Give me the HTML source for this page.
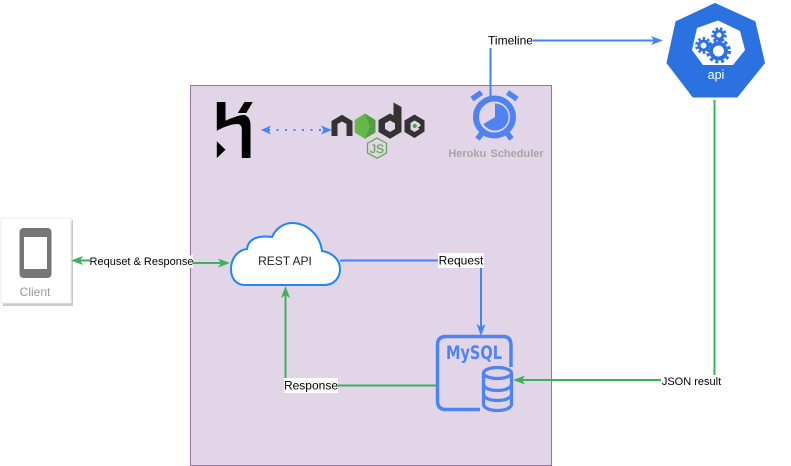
<!DOCTYPE html>
<html><head><meta charset="utf-8"><style>
html,body{margin:0;padding:0;background:#fff;width:791px;height:466px;overflow:hidden}
svg{display:block}
text{font-family:"Liberation Sans",sans-serif}
</style></head><body>
<svg width="791" height="466" viewBox="0 0 791 466" xmlns="http://www.w3.org/2000/svg">
<rect x="190.5" y="85.5" width="361" height="380" fill="#e1d5e7" stroke="#9673a6"/>
<!-- client -->
<rect x="3" y="220" width="70" height="86" fill="#c9c9c9"/>
<rect x="1" y="218" width="70" height="85" fill="#fff" stroke="#eee"/>
<rect x="19.5" y="228" width="32" height="50" rx="4" fill="#777"/>
<rect x="24" y="237" width="23" height="32" fill="#fff"/>
<text x="35" y="296" font-size="12" fill="#999" text-anchor="middle">Client</text>
<!-- heroku -->
<path d="M216.800 102H225.500V120.700C232 118 239 115 243.500 115 247.500 115 250.500 119 250.500 125V158H241.800V129C241.800 126 240 124 237.500 124 231.500 124 223.500 127 216.800 130.700Z" fill="#000"/>
<path d="M244.500 102H252.800L246.200 113H237.800Z" fill="#000"/>
<path d="M216.800 141.300L225.500 149.700 216.800 158Z" fill="#000"/>
<!-- dotted -->
<line x1="268" y1="130" x2="326" y2="130" stroke="#4285f4" stroke-width="2" stroke-dasharray="2 6.500"/>
<path d="M261 130L271 125.500 268.500 130 271 134.500Z" fill="#4285f4"/>
<path d="M332 130L321 125.500 323.500 130 321 134.500Z" fill="#4285f4"/>
<!-- node -->
<path d="M331.500 136V121L342 114.700 352.500 121V136H346.500V124L342 121.500 337.500 124V136Z" fill="#333"/>
<path d="M365 113.500L375.500 120V132.500L365 138.700 354.800 132.500V120Z" fill="#539e43"/>
<path d="M365 113.500L354.800 120V132.500L365 138.700 370 127Z" fill="#6cc24a" opacity=".7"/>
<path d="M393.500 102.500L401.500 107V132L390 138.700 378.500 132V120L390 113.500 393.500 115.500ZM390 120.500L385 123.300V129L390 132 395 129V123.300Z" fill="#333" fill-rule="evenodd"/>
<path d="M414.500 114.500L424.500 120.500V131.500L414.500 138 404.500 132V120.500ZM414.500 120.500L410.500 123V129.500L414.500 132 419.500 129 418 127.500 421 125.500 419 123Z" fill="#333" fill-rule="evenodd"/>
<circle cx="414.800" cy="126" r="2" fill="#539e43"/>
<path d="M377 138L386.500 143.200V153L377 158.200 367.500 153V143.200Z" fill="none" stroke="#6aa85d" stroke-width="1.300"/>
<text x="377" y="153" font-size="12" fill="#6aa85d" stroke="#6aa85d" stroke-width=".3" text-anchor="middle">JS</text>
<!-- clock -->
<line x1="490.500" y1="48" x2="490.500" y2="97" stroke="#4285f4" stroke-width="2"/>
<circle cx="494.500" cy="117" r="18.500" fill="none" stroke="#4f83f1" stroke-width="6"/>
<path d="M495 117V103.500A13.500 13.500 0 1 1 483.500 124Z" fill="#4f83f1"/>
<path d="M472 99L481.500 92.500M507.500 92.500L517 99M477.500 139L482 133M511.500 139L507 133" fill="none" stroke="#4f83f1" stroke-width="5.500"/>
<text x="496" y="157" font-size="11" font-weight="bold" fill="#a6a6a6" text-anchor="middle" word-spacing="1.200">Heroku Scheduler</text>
<!-- k8s -->
<path d="M715 3.500L755 21.700 764.500 63 737 97H693L667 63 676 21.700Z" fill="#2b72e0" stroke="#2b72e0" stroke-width="1" stroke-linejoin="round"/>
<path d="M718 20.500L740 31 745 50 733 65H703L692 50 697 28Z" fill="#fff"/>
<g fill="none" stroke="#2b72e0">
<circle cx="718.500" cy="51" r="7.500" stroke-width="4"/>
<circle cx="718.500" cy="51" r="11" stroke-width="3" stroke-dasharray="3 2.800"/>
<circle cx="703.500" cy="45.500" r="4.500" stroke-width="3"/>
<circle cx="703.500" cy="45.500" r="7.200" stroke-width="2.500" stroke-dasharray="2.500 2.200"/>
<circle cx="719" cy="35" r="4" stroke-width="3"/>
<circle cx="719" cy="35" r="6.500" stroke-width="2.500" stroke-dasharray="2.500 2"/>
</g>
<text x="716" y="79" font-size="12.500" fill="#fff" text-anchor="middle">api</text>
<!-- timeline -->
<line x1="533" y1="40.500" x2="654" y2="40.500" stroke="#4285f4" stroke-width="2"/>
<path d="M663 40.500L651 36 654 40.500 651 45Z" fill="#4285f4"/>
<rect x="488" y="33" width="45" height="15" fill="#fff"/>
<text x="510.500" y="44.500" font-size="12" fill="#000" text-anchor="middle">Timeline</text>
<!-- json -->
<path d="M714.500 100V380H522" fill="none" stroke="#3cb15c" stroke-width="2"/>
<path d="M513 380L525 375.500 522 380 525 384.500Z" fill="#3cb15c"/>
<rect x="661" y="375" width="61" height="13" fill="#fff"/>
<text x="691.500" y="385" font-size="11" text-anchor="middle">JSON result</text>
<!-- request -->
<path d="M340 260.500H481V327" fill="none" stroke="#4285f4" stroke-width="2"/>
<path d="M481 336L476.500 324 481 327 485.500 324Z" fill="#4285f4"/>
<rect x="438" y="253" width="46" height="15" fill="#fff"/>
<text x="461" y="264.500" font-size="12" text-anchor="middle">Request</text>
<!-- response -->
<path d="M436 385.500H285.500V295" fill="none" stroke="#3cb15c" stroke-width="2"/>
<path d="M285.500 286L281 298 285.500 295 290 298Z" fill="#3cb15c"/>
<rect x="284" y="378" width="54" height="15" fill="#fff"/>
<text x="311" y="389.500" font-size="12" text-anchor="middle">Response</text>
<!-- req/resp -->
<path d="M80 260.500H90M193 263H222" fill="none" stroke="#3cb15c" stroke-width="2"/>
<path d="M71 260.500L83 256 80 260.500 83 265Z" fill="#3cb15c"/>
<path d="M230 263L218 258.500 221 263 218 267.500Z" fill="#3cb15c"/>
<rect x="90" y="255" width="103" height="13" fill="#fff"/>
<text x="141.500" y="265" font-size="11" text-anchor="middle">Requset &amp; Response</text>
<!-- cloud -->
<path d="M245 285C235 285 231 277 231 269 231 258 238 250 247 249 248 239 258 235 272 237 276 228 284 223 292 223 307 223 320 235 322 251 333 253 340 260 340 269 340 278 334 285 324 285Z" fill="#fff" stroke="#1e88f0" stroke-width="2"/>
<text x="285" y="265" font-size="12" fill="#222" text-anchor="middle">REST API</text>
<!-- mysql -->
<path d="M480 409.500H446Q437.500 409.500 437.500 401V345Q437.500 336.500 446 336.500H503Q511 336.500 511 345V367" fill="none" stroke="#4f83f1" stroke-width="3.500"/>
<text x="474" y="359" font-size="19" font-weight="bold" fill="#4f83f1" text-anchor="middle" textLength="56" lengthAdjust="spacingAndGlyphs" style="font-family:'DejaVu Sans',sans-serif">MySQL</text>
<path d="M483.500 373V404C483.500 408 490 410.500 497.500 410.500S511.500 408 511.500 404V373" fill="#e1d5e7" stroke="#4f83f1" stroke-width="3.300"/>
<ellipse cx="497.500" cy="373" rx="14" ry="5.500" fill="#e1d5e7" stroke="#4f83f1" stroke-width="3.300"/>
<path d="M483.500 384C483.500 388 490 390.500 497.500 390.500S511.500 388 511.500 384M483.500 394C483.500 398 490 400.500 497.500 400.500S511.500 398 511.500 394" fill="none" stroke="#4f83f1" stroke-width="3.300"/>
</svg>
</body></html>
